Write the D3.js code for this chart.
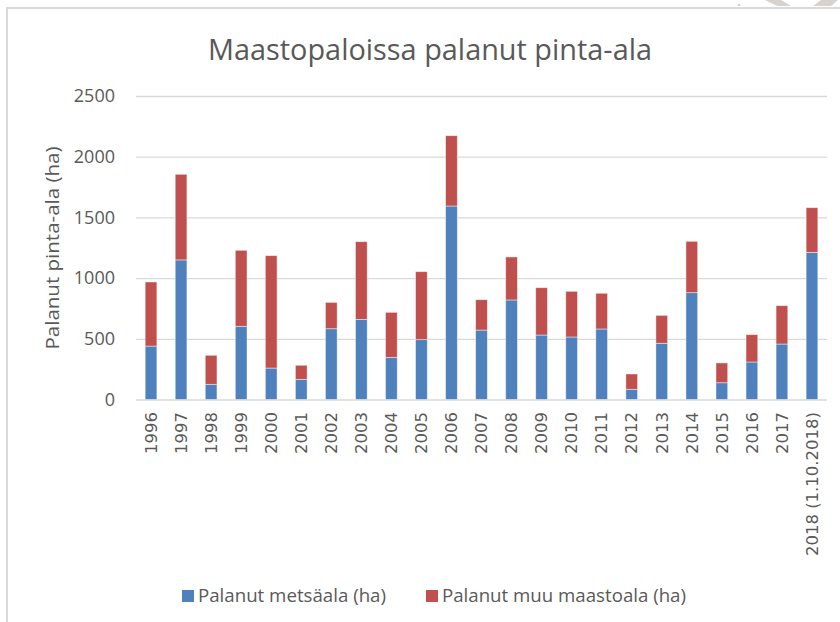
<!DOCTYPE html>
<html>
<head>
<meta charset="utf-8">
<script src="https://cdn.jsdelivr.net/npm/d3@7"></script>
<style>
  body { margin: 0; background: #fff; }
  svg text { fill: #595959; }
</style>
</head>
<body>
<script>
// Data (hectares)
const years = ["1996", "1997", "1998", "1999", "2000", "2001", "2002", "2003", "2004", "2005", "2006",
    "2007", "2008", "2009", "2010", "2011", "2012", "2013", "2014", "2015", "2016", "2017", "2018 (1.10.2018)"];
const forestArea = [440, 1150, 125, 603, 259, 166, 583, 660, 347, 493, 1594,
    572, 820, 531, 515, 581, 84, 463, 880, 138, 309, 457, 1212];
const otherArea = [528, 705, 239, 626, 926, 116, 217, 640, 371, 560, 579,
    250, 354, 390, 376, 294, 126, 230, 423, 163, 225, 316, 368];
const yTicks = [0, 500, 1000, 1500, 2000, 2500];
const seriesNames = ["Palanut metsäala (ha)", "Palanut muu maastoala (ha)"];
const seriesColours = ["#4f81bd", "#c0504d"];

const width = 840, height = 622;
const plot = {left: 136, right: 827, top: 96, bottom: 399.5};

const svg = d3.select("body").append("svg")
    .attr("width", width)
    .attr("height", height);

// frame of the chart area, partly outside the page
svg.append("rect")
    .attr("x", 7).attr("y", 8)
    .attr("width", 900).attr("height", 700)
    .attr("fill", "none")
    .attr("stroke", "#d9d9d9")
    .attr("stroke-width", 2);

// page decoration peeking in at the top right
const deco = [
    [[765, 0], [781, 0], [791, 6], [777, 6]],
    [[821, 0], [838, 0], [831, 6], [813, 6]],
    [[737, 6], [741, 6], [739, 3]]
];
svg.selectAll("polygon.deco").data(deco).enter().append("polygon")
    .attr("class", "deco")
    .attr("points", d => d.map(p => p.join(",")).join(" "))
    .attr("fill", "#d8d2ce");

// title
svg.append("text")
    .attr("x", 430).attr("y", 60)
    .attr("text-anchor", "middle")
    .attr("textLength", 444)
    .attr("lengthAdjust", "spacingAndGlyphs")
    .style("font-family", "'Open Sans', sans-serif")
    .style("font-weight", 400)
    .style("font-size", "29px")
    .text("Maastopaloissa palanut pinta-ala");

// scales
const xRange = d3.scaleBand()
    .domain(years)
    .range([plot.left, plot.right])
    .paddingInner(0.61)
    .paddingOuter(0.305);

const yRange = d3.scaleLinear()
    .domain([0, 2500])
    .range([plot.bottom, plot.top]);

// y axis with gridlines
const yAxis = d3.axisLeft(yRange)
    .tickValues(yTicks)
    .tickSize(-(plot.right - plot.left))
    .tickPadding(21)
    .tickFormat(d3.format("d"));

const yAxisGroup = svg.append("g")
    .attr("transform", "translate(" + plot.left + ",0)")
    .call(yAxis);
yAxisGroup.select(".domain").remove();
yAxisGroup.selectAll(".tick line")
    .attr("stroke", "#d9d9d9")
    .attr("stroke-width", 1.3);
yAxisGroup.selectAll(".tick text")
    .attr("fill", "#595959")
    .style("font-family", "'Open Sans', sans-serif")
    .style("font-size", "18px");

// y axis title
svg.append("text")
    .attr("transform", "translate(59," + 248 + ") rotate(-90)")
    .attr("text-anchor", "middle")
    .attr("textLength", 203)
    .attr("lengthAdjust", "spacingAndGlyphs")
    .style("font-family", "'Open Sans', sans-serif")
    .style("font-size", "19px")
    .text("Palanut pinta-ala (ha)");

// stacked bars
const stackedData = years.map((year, i) => ({year: year, forest: forestArea[i], other: otherArea[i]}));
const stack = d3.stack().keys(["forest", "other"]);
const layers = stack(stackedData);

svg.selectAll("g.layer")
    .data(layers)
    .enter().append("g")
    .attr("class", "layer")
    .attr("fill", (d, i) => seriesColours[i])
    .selectAll("rect")
    .data(d => d)
    .enter().append("rect")
    .attr("x", d => xRange(d.data.year))
    .attr("y", d => yRange(d[1]))
    .attr("width", xRange.bandwidth())
    .attr("height", d => yRange(d[0]) - yRange(d[1]))
    .attr("stroke", "rgba(255,255,255,0.55)")
    .attr("stroke-width", 0.8);

// x axis labels
const xAxis = d3.axisBottom(xRange).tickSize(0).tickPadding(0);
const xAxisGroup = svg.append("g")
    .attr("transform", "translate(0," + plot.bottom + ")")
    .call(xAxis);
xAxisGroup.select(".domain").remove();
xAxisGroup.selectAll(".tick text")
    .attr("fill", "#595959")
    .attr("transform", "rotate(-90)")
    .attr("x", -12.5)
    .attr("y", 0)
    .attr("dy", "0.35em")
    .attr("text-anchor", "end")
    .style("font-family", "'DejaVu Sans', sans-serif")
    .style("font-size", "16.5px");

// legend
const legendX = [182, 426];
const legendWidths = [188, 244];
const legend = svg.selectAll("g.legend")
    .data(seriesNames)
    .enter().append("g")
    .attr("class", "legend")
    .attr("transform", (d, i) => "translate(" + legendX[i] + ",590)");
legend.append("rect")
    .attr("width", 12).attr("height", 12)
    .attr("fill", (d, i) => seriesColours[i]);
legend.append("text")
    .attr("x", 16).attr("y", 6)
    .attr("dy", "0.35em")
    .attr("textLength", (d, i) => legendWidths[i])
    .attr("lengthAdjust", "spacingAndGlyphs")
    .style("font-family", "'Open Sans', sans-serif")
    .style("font-size", "18.5px")
    .text(d => d);
</script>
</body>
</html>
